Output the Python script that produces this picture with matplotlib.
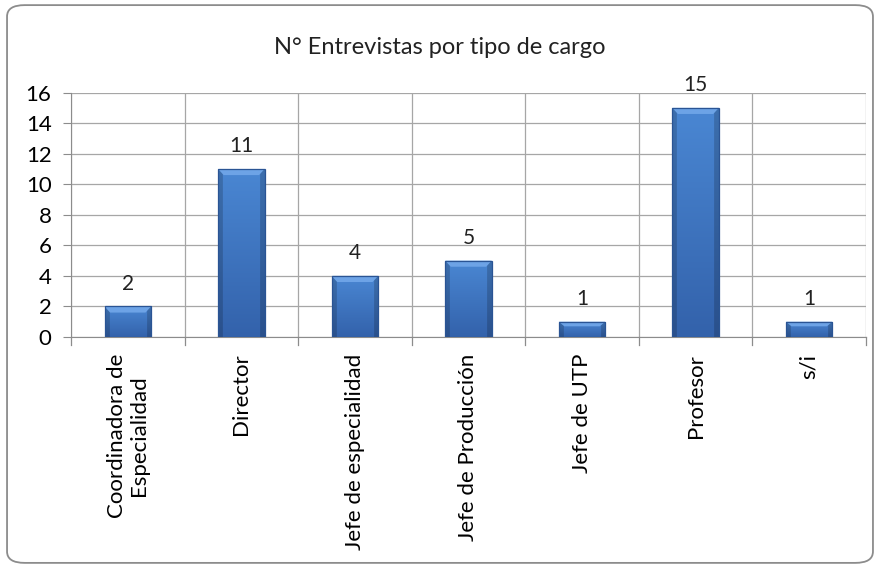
import matplotlib
matplotlib.use('Agg')
import matplotlib.pyplot as plt
from matplotlib.patches import FancyBboxPatch, Polygon
import numpy as np

matplotlib.rcParams['font.family'] = ['Lato', 'DejaVu Sans']

categories = ['Coordinadora de\nEspecialidad', 'Director', 'Jefe de especialidad',
              'Jefe de Producción', 'Jefe de UTP', 'Profesor', 's/i']
counts = [2, 11, 4, 5, 1, 15, 1]
yticks = [0, 2, 4, 6, 8, 10, 12, 14, 16]

fig = plt.figure(figsize=(8.8, 5.68), dpi=100)

# Chart frame (rounded, Excel-like)
frame = FancyBboxPatch((0.008, 0.009), 0.984, 0.982,
                       boxstyle='round,pad=0,rounding_size=0.02',
                       transform=fig.transFigure, facecolor='none',
                       edgecolor='#8c8c8c', linewidth=1.3, zorder=-1)
fig.patches.append(frame)

ax = fig.add_axes([0.0807, 0.4067, 0.9033, 0.4303])
ax.set_facecolor('none')

x = np.arange(len(categories))
bars = ax.bar(x, counts, width=0.41, color='#3a6fb8', edgecolor='none',
              linewidth=0, zorder=3)

# vertical gradient (light top, darker bottom) + darker side edges
top_c = np.array([0x4a, 0x87, 0xd3]) / 255
bot_c = np.array([0x33, 0x62, 0xab]) / 255
t = np.linspace(1, 0, 100)[:, None, None]
vert = bot_c[None, None, :] + (top_c - bot_c)[None, None, :] * t
h = np.linspace(-1, 1, 48)
side = 1 - 0.18 * (np.abs(h) > 0.82)
img = vert * side[None, :, None]

for bar in bars:
    bx, bw, bh = bar.get_x(), bar.get_width(), bar.get_height()
    im = ax.imshow(img, extent=(bx, bx + bw, 0, bh), aspect='auto',
                   zorder=3.5, interpolation='bilinear', origin='upper')
    im.set_clip_path(bar)
    # light top bevel
    bev = min(0.4, bh * 0.3)
    ax.add_patch(Polygon([(bx, bh), (bx + bw, bh), (bx + bw * 0.88, bh - bev),
                          (bx + bw * 0.12, bh - bev)], closed=True,
                         facecolor='#6da3e6', edgecolor='none', zorder=3.6))
    ax.bar(bx + bw / 2, bh, width=bw, fill=False, edgecolor='#2a5494',
           linewidth=0.9, zorder=3.7)
    ax.annotate(f'{int(bh)}', xy=(bx + bw / 2, bh), xytext=(0, 9),
                textcoords='offset points', ha='center', va='bottom',
                fontsize=15, color='#222222')

ax.set_xlim(-0.5, len(categories) - 0.5)
ax.set_ylim(0, 16)
ax.set_yticks(yticks)
ax.set_yticklabels([str(v) for v in yticks], fontsize=16)
ax.set_xticks(x)
ax.set_xticklabels(categories, rotation=90, fontsize=16, va='top', ha='center',
                   linespacing=1.15)
ax.tick_params(axis='x', length=0, pad=12)
ax.tick_params(axis='y', length=6, width=0.8, color='#8c8c8c', pad=8)

# gridlines: horizontal at ticks, vertical at category boundaries
for v in yticks:
    ax.axhline(v, color='#a6a6a6', linewidth=0.9, zorder=1)
for b in np.arange(-0.5, len(categories) + 0.5, 1):
    ax.axvline(b, color='#a6a6a6', linewidth=0.9, zorder=1)
    ax.plot([b, b], [0, -0.5], color='#8c8c8c', linewidth=0.9,
            clip_on=False, zorder=1)

for s in ax.spines.values():
    s.set_visible(False)
ax.spines['bottom'].set_visible(True)
ax.spines['bottom'].set_color('#8c8c8c')
ax.spines['left'].set_visible(True)
ax.spines['left'].set_color('#8c8c8c')

fig.text(0.5, 0.917, 'N° Entrevistas por tipo de cargo', ha='center',
         va='center', fontsize=17, color='#222222')

fig.savefig('out.png', dpi=100)
